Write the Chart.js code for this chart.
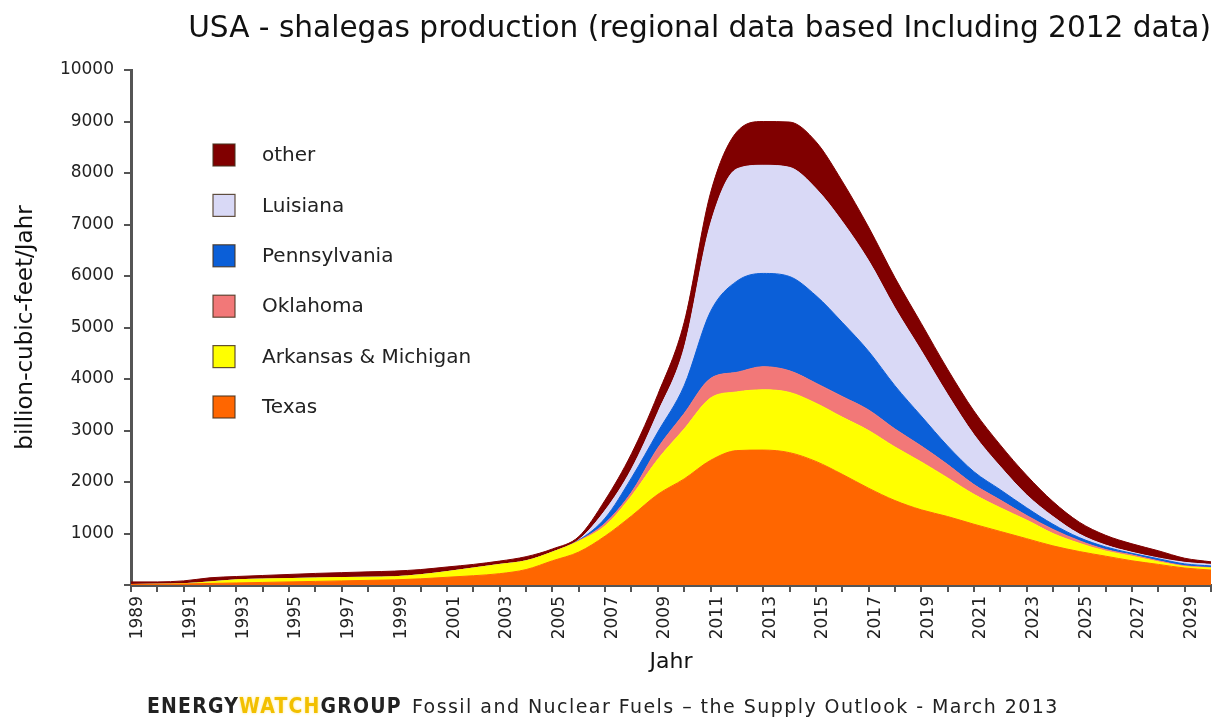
<!DOCTYPE html>
<html>
<head>
<meta charset="utf-8">
<script src="https://cdn.jsdelivr.net/npm/chart.js@4.4.1/dist/chart.umd.min.js"></script>
<style>
  html, body { margin: 0; padding: 0; background: #fff; }
  #wrap { position: relative; width: 1214px; height: 724px; overflow: hidden; }
  #c { position: absolute; left: 0; top: 0; }
  #footer { position: absolute; left: 147px; top: 694px; white-space: nowrap; font-family: "DejaVu Sans", sans-serif; color: #222; }
  #footer .ewg { font-family: "DejaVu Sans Condensed", "Liberation Sans Narrow", sans-serif; font-weight: bold; font-size: 21px; letter-spacing: 1.2px; }
  #footer .watch { color: #F2C000; text-shadow: 0 0 3px #FFE680; }
  #footer .src { font-size: 19px; letter-spacing: 1.45px; margin-left: 10px; }
</style>
</head>
<body>
<div id="wrap">
  <canvas id="c" width="1214" height="724"></canvas>
  <div id="footer"><span class="ewg">ENERGY<span class="watch">WATCH</span>GROUP</span><span class="src">Fossil and Nuclear Fuels – the Supply Outlook - March 2013</span></div>
</div>
<script>
const years = [1989,1990,1991,1992,1993,1994,1995,1996,1997,1998,1999,2000,2001,2002,2003,2004,2005,2006,2007,2008,2009,2010,2011,2012,2013,2014,2015,2016,2017,2018,2019,2020,2021,2022,2023,2024,2025,2026,2027,2028,2029,2030];

const texas        = [10,15,20,30,40,50,60,70,80,90,100,120,150,180,220,300,470,640,950,1340,1760,2060,2420,2610,2620,2570,2400,2150,1880,1640,1460,1330,1180,1040,900,760,650,560,470,400,330,290];
const arkansasMich = [0,0,5,30,60,65,65,65,65,60,60,80,110,150,180,170,170,210,200,390,680,970,1210,1140,1170,1170,1130,1110,1120,1040,930,750,580,460,360,240,160,100,90,50,30,40];
const oklahoma     = [0,0,0,0,0,0,0,0,0,0,0,0,0,0,0,0,0,10,50,70,220,300,380,380,450,420,390,400,400,350,310,260,190,150,90,80,50,30,25,20,15,10];
const pennsylvania = [0,0,0,0,0,0,0,0,0,0,0,0,0,0,0,0,0,10,100,280,310,540,1300,1770,1810,1830,1700,1440,1140,840,580,360,250,200,150,100,60,50,30,40,35,30];
const luisiana     = [0,0,0,0,0,0,0,0,0,0,0,0,0,0,0,0,0,10,150,170,380,730,1700,2180,2100,2120,2080,1960,1760,1510,1270,1000,720,450,250,150,70,35,20,15,30,30];
const other        = [50,45,55,80,65,70,80,90,95,105,110,100,90,70,65,80,60,60,200,300,350,500,600,720,850,880,910,780,650,590,530,490,460,420,380,290,230,190,165,140,80,50];

const seriesNames  = ["Texas","Arkansas & Michigan","Oklahoma","Pennsylvania","Luisiana","other"];
const seriesColors = ["#FF6600","#FFFF00","#F27878","#0B5FD8","#D9D9F6","#800000"];
const seriesValues = [texas, arkansasMich, oklahoma, pennsylvania, luisiana, other];

const yTickValues = [1000,2000,3000,4000,5000,6000,7000,8000,9000,10000];

const titleText  = "USA - shalegas production (regional data based Including 2012 data)";
const yAxisTitle = "billion-cubic-feet/Jahr";
const xAxisTitle = "Jahr";

const datasets = seriesValues.map((vals, i) => ({
  label: seriesNames[i],
  data: years.map((y, k) => ({ x: y, y: vals[k] })),
  backgroundColor: seriesColors[i],
  borderColor: seriesColors[i],
  borderWidth: 1,
  pointRadius: 0,
  fill: i === 0 ? 'origin' : '-1',
  cubicInterpolationMode: 'monotone'
}));

const boxLegend = {
  id: 'boxLegend',
  afterDraw(chart) {
    const ctx = chart.ctx;
    const items = chart.data.datasets.slice().reverse();
    ctx.save();
    items.forEach((ds, i) => {
      const cy = 155 + i * 50.4;
      ctx.fillStyle = ds.backgroundColor;
      ctx.fillRect(213, cy - 11, 22, 22);
      ctx.strokeStyle = 'rgba(70,50,30,0.85)';
      ctx.lineWidth = 1.2;
      ctx.strokeRect(213, cy - 11, 22, 22);
      ctx.fillStyle = '#222';
      ctx.font = '20px "DejaVu Sans", sans-serif';
      ctx.textBaseline = 'middle';
      ctx.textAlign = 'left';
      ctx.fillText(ds.label, 262, cy + 1);
    });
    ctx.restore();
  }
};

new Chart(document.getElementById('c'), {
  type: 'line',
  data: { datasets },
  plugins: [boxLegend],
  options: {
    responsive: false,
    animation: false,
    layout: { padding: { left: 0, right: 3, top: 0, bottom: 39 } },
    plugins: {
      legend: { display: false },
      tooltip: { enabled: false },
      title: {
        display: true,
        text: titleText,
        align: 'end',
        color: '#111',
        font: { family: '"DejaVu Sans", sans-serif', size: 29.6, weight: 'normal' },
        padding: { top: 12, bottom: 22.5 }
      }
    },
    elements: { line: { borderJoinStyle: 'round' } },
    scales: {
      x: {
        type: 'linear',
        min: 1989,
        max: 2030,
        afterFit(scale) { scale.height = 100; scale.paddingRight = 0; scale.paddingLeft = 0; },
        border: { display: true, color: '#555', width: 3 },
        grid: { display: true, drawOnChartArea: false, drawTicks: true, tickLength: 7, color: '#555', lineWidth: 2 },
        ticks: {
          stepSize: 1,
          autoSkip: false,
          minRotation: 90,
          maxRotation: 90,
          padding: 4,
          labelOffset: 7,
          color: '#222',
          font: { family: '"DejaVu Sans", sans-serif', size: 17 },
          callback: (v) => (Math.round(v) % 2 === 1 ? String(Math.round(v)) : '')
        },
        title: {
          display: true,
          text: xAxisTitle,
          color: '#111',
          font: { family: '"DejaVu Sans", sans-serif', size: 22 },
          padding: { top: 0, bottom: 10 }
        }
      },
      y: {
        stacked: true,
        min: 0,
        max: 10000,
        afterFit(scale) { scale.width = 131; scale.paddingTop = 0; scale.paddingBottom = 0; },
        afterBuildTicks(scale) { scale.ticks = [{ value: 0 }].concat(yTickValues.map(v => ({ value: v }))); },
        border: { display: true, color: '#555', width: 3 },
        grid: { display: true, drawOnChartArea: false, drawTicks: true, tickLength: 7, color: '#555', lineWidth: 2 },
        ticks: {
          padding: 10,
          color: '#222',
          font: { family: '"DejaVu Sans", sans-serif', size: 17 },
          callback: (v) => (v === 0 ? '' : String(v))
        },
        title: {
          display: true,
          text: yAxisTitle,
          color: '#111',
          font: { family: '"DejaVu Sans", sans-serif', size: 23 },
          padding: { top: 12, bottom: 0 }
        }
      }
    }
  }
});
</script>
</body>
</html>
